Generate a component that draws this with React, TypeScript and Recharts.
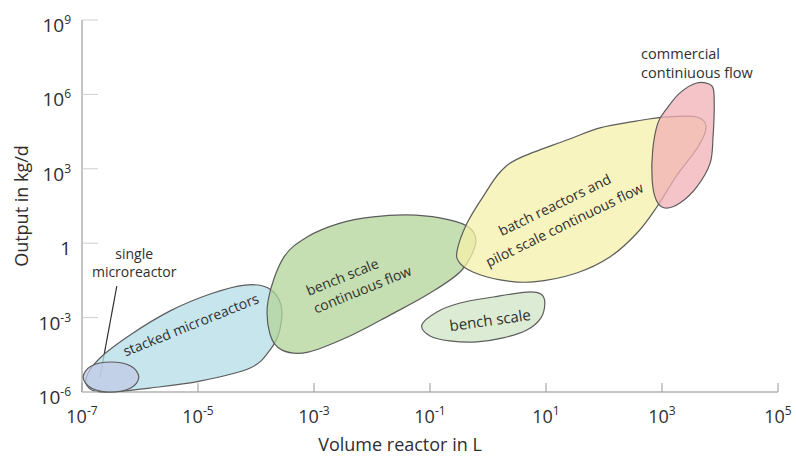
import React from 'react';
import { ScatterChart, Scatter, XAxis, YAxis, ReferenceLine, Label } from 'recharts';

// all values are log10: x = volume reactor (L), y = output (kg/d)
const xTicks = [-7, -5, -3, -1, 1, 3, 5];
const yTicks = [-6, -3, 0, 3, 6, 9];

const singleMicroreactor = [
  { x: -6.02, y: -5.4 }, { x: -6.16, y: -4.95 }, { x: -6.5, y: -4.79 }, { x: -6.84, y: -4.95 },
  { x: -6.98, y: -5.4 }, { x: -6.84, y: -5.84 }, { x: -6.5, y: -6.0 }, { x: -6.16, y: -5.84 },
];

const stackedMicroreactors = [
  { x: -6.93, y: -5.44 }, { x: -6.69, y: -4.63 }, { x: -6.17, y: -3.7 }, { x: -5.48, y: -2.73 },
  { x: -4.79, y: -2.05 }, { x: -4.19, y: -1.69 }, { x: -3.79, y: -1.81 }, { x: -3.57, y: -2.49 },
  { x: -3.59, y: -3.5 }, { x: -3.76, y: -4.31 }, { x: -4.1, y: -5.03 }, { x: -4.97, y: -5.56 },
  { x: -5.83, y: -5.84 }, { x: -6.52, y: -6.0 }, { x: -6.83, y: -5.92 },
];

const benchContinuous = [
  { x: -3.79, y: -2.29 }, { x: -3.53, y: -0.6 }, { x: -3.12, y: 0.25 }, { x: -2.55, y: 0.81 },
  { x: -1.98, y: 1.06 }, { x: -1.4, y: 1.14 }, { x: -0.83, y: 1.02 }, { x: -0.36, y: 0.69 },
  { x: -0.21, y: 0.05 }, { x: -0.45, y: -1.08 }, { x: -1.0, y: -2.01 }, { x: -1.69, y: -2.9 },
  { x: -2.38, y: -3.74 }, { x: -3.1, y: -4.39 }, { x: -3.55, y: -4.31 }, { x: -3.76, y: -3.66 },
];

const benchScale = [
  { x: -1.14, y: -3.3 }, { x: -0.88, y: -2.77 }, { x: -0.48, y: -2.41 }, { x: 0.09, y: -2.17 },
  { x: 0.67, y: -1.97 }, { x: 0.91, y: -2.05 }, { x: 0.98, y: -2.41 }, { x: 0.91, y: -3.02 },
  { x: 0.67, y: -3.5 }, { x: 0.26, y: -3.82 }, { x: -0.19, y: -3.98 }, { x: -0.66, y: -3.94 },
  { x: -1.0, y: -3.74 },
];

const batchPilot = [
  { x: -0.53, y: -0.27 }, { x: -0.36, y: 0.81 }, { x: -0.09, y: 1.86 }, { x: 0.21, y: 2.87 },
  { x: 0.55, y: 3.44 }, { x: 1.36, y: 4.16 }, { x: 1.93, y: 4.65 }, { x: 2.57, y: 4.93 },
  { x: 3.09, y: 5.09 }, { x: 3.6, y: 5.09 }, { x: 3.76, y: 4.69 }, { x: 3.62, y: 3.88 },
  { x: 3.26, y: 2.75 }, { x: 2.91, y: 1.46 }, { x: 2.57, y: 0.41 }, { x: 2.1, y: -0.56 },
  { x: 1.53, y: -1.2 }, { x: 0.78, y: -1.56 }, { x: 0.21, y: -1.48 }, { x: -0.26, y: -1.16 },
  { x: -0.5, y: -0.76 },
];

const commercial = [
  { x: 3.6, y: 6.46 }, { x: 3.86, y: 6.34 }, { x: 3.9, y: 5.65 }, { x: 3.88, y: 4.28 },
  { x: 3.83, y: 3.23 }, { x: 3.6, y: 2.27 }, { x: 3.31, y: 1.62 }, { x: 3.05, y: 1.42 },
  { x: 2.9, y: 1.74 }, { x: 2.83, y: 2.55 }, { x: 2.84, y: 3.76 }, { x: 2.93, y: 4.85 },
  { x: 3.09, y: 5.45 }, { x: 3.31, y: 6.06 },
];

const noteText = [
  ['stacked microreactors'],
  ['bench scale', 'continuous flow'],
  ['bench scale'],
  ['batch reactors and', 'pilot scale continuous flow'],
  ['commercial', 'continiuous flow'],
  ['single', 'microreactor'],
];
const noteX = [-5.09, -3.09, 0.05, 1.19, 2.64, -6.1];
const noteY = [-3.48, -2.13, -3.32, 1.36, 7.42, -0.64];

const pointer = [{ x: -6.69, y: -5.4 }, { x: -6.4, y: -1.73 }];

const FONT = "'Open Sans', 'Noto Sans', sans-serif";
const TEXT = '#2e2e2e';

const blobs = [
  { key: 'stacked', data: stackedMicroreactors, fill: '#b3dce7' },
  { key: 'single', data: singleMicroreactor, fill: '#c0c8e6' },
  { key: 'benchcf', data: benchContinuous, fill: '#b3d498' },
  { key: 'bench', data: benchScale, fill: '#d0e4c6' },
  { key: 'batch', data: batchPilot, fill: '#f6f0aa' },
  { key: 'commercial', data: commercial, fill: '#f2b0b6' },
];

const noteStyle = [
  { angle: -22, anchor: 'middle', size: 14, lh: 19 },
  { angle: -22, anchor: 'start', size: 14, lh: 19 },
  { angle: -8, anchor: 'middle', size: 15, lh: 18 },
  { angle: -26, anchor: 'middle', size: 14, lh: 22 },
  { angle: 0, anchor: 'start', size: 14.5, lh: 19 },
  { angle: 0, anchor: 'middle', size: 14, lh: 18 },
];

const notes = noteText.map((lines, i) => ({ x: noteX[i], y: noteY[i], lines, idx: i }));

// closed catmull-rom spline through the scaled points
const closedPath = (pts: { x: number; y: number }[]) => {
  const n = pts.length;
  let d = `M${pts[0].x},${pts[0].y}`;
  for (let i = 0; i < n; i++) {
    const p0 = pts[(i - 1 + n) % n];
    const p1 = pts[i];
    const p2 = pts[(i + 1) % n];
    const p3 = pts[(i + 2) % n];
    const c1x = p1.x + (p2.x - p0.x) / 6;
    const c1y = p1.y + (p2.y - p0.y) / 6;
    const c2x = p2.x - (p3.x - p1.x) / 6;
    const c2y = p2.y - (p3.y - p1.y) / 6;
    d += `C${c1x},${c1y} ${c2x},${c2y} ${p2.x},${p2.y}`;
  }
  return d + 'Z';
};

const blobLine = (fill: string) => (p: any) => {
  if (!p.points || !p.points.length) return <g />;
  return (
    <path
      d={closedPath(p.points)}
      fill={fill}
      fillOpacity={0.75}
      stroke="#5c5c5c"
      strokeWidth={1.2}
    />
  );
};

const XTick = (props: any) => {
  const { x, y, payload } = props;
  return (
    <g>
      <line x1={x} x2={x} y1={y} y2={y - 9} stroke="#9a9a9a" />
      <text x={x} y={y + 31} textAnchor="middle" fontSize={18} fill={TEXT} fontFamily={FONT}>
        10<tspan dy={-8} fontSize={12}>{payload.value}</tspan>
      </text>
    </g>
  );
};

const YTick = (props: any) => {
  const { x, y, payload } = props;
  return (
    <g>
      <line x1={x} x2={x + 16} y1={y} y2={y} stroke="#cfcfcf" />
      <text x={x - 11} y={y + 12} textAnchor="end" fontSize={19} fill={TEXT} fontFamily={FONT}>
        {payload.value === 0 ? '1' : (
          <>
            10<tspan dy={-8} fontSize={12}>{payload.value}</tspan>
          </>
        )}
      </text>
    </g>
  );
};

const Note = (props: any) => {
  const { cx, cy, payload } = props;
  const s = noteStyle[payload.idx];
  return (
    <text
      x={cx}
      y={cy}
      transform={`rotate(${s.angle} ${cx} ${cy})`}
      textAnchor={s.anchor}
      fontSize={s.size}
      fill={TEXT}
      fontFamily={FONT}
    >
      {payload.lines.map((t: string, i: number) => (
        <tspan key={i} x={cx} dy={i === 0 ? 0 : s.lh}>
          {t}
        </tspan>
      ))}
    </text>
  );
};

export default function App() {
  return (
    <div style={{ position: 'absolute', left: 0, top: 0, background: '#fff' }}>
      <ScatterChart width={796} height={458} margin={{ top: 20, right: 18, bottom: 0, left: 0 }}>
        <XAxis
          type="number"
          dataKey="x"
          domain={[-7, 5]}
          ticks={xTicks}
          height={66}
          tickSize={0}
          tickMargin={0}
          tick={<XTick />}
          tickLine={false}
          axisLine={{ stroke: '#8a8a8a' }}
        >
          <Label
            content={(p: any) => {
              const vb = p.viewBox;
              return (
                <text x={vb.x + vb.width / 2 - 30} y={vb.y + 59} textAnchor="middle" fontSize={18} fill={TEXT} fontFamily={FONT}>
                  Volume reactor in L
                </text>
              );
            }}
          />
        </XAxis>
        <YAxis
          type="number"
          dataKey="y"
          domain={[-6, 9]}
          ticks={yTicks}
          width={82}
          tickSize={0}
          tickMargin={0}
          tick={<YTick />}
          tickLine={false}
          axisLine={{ stroke: '#8a8a8a' }}
        >
          <Label
            content={(p: any) => {
              const vb = p.viewBox;
              const cy = vb.y + vb.height / 2;
              return (
                <text x={28} y={cy} transform={`rotate(-90 28 ${cy})`} textAnchor="middle" fontSize={18} fill={TEXT} fontFamily={FONT}>
                  Output in kg/d
                </text>
              );
            }}
          />
        </YAxis>
        {blobs.map((b) => (
          <Scatter
            key={b.key}
            data={b.data}
            isAnimationActive={false}
            line={blobLine(b.fill)}
            lineType="joint"
            shape={() => <g />}
          />
        ))}
        <ReferenceLine segment={pointer} stroke="#333" strokeWidth={1.2} />
        <Scatter data={notes} isAnimationActive={false} shape={<Note />} />
      </ScatterChart>
    </div>
  );
}
